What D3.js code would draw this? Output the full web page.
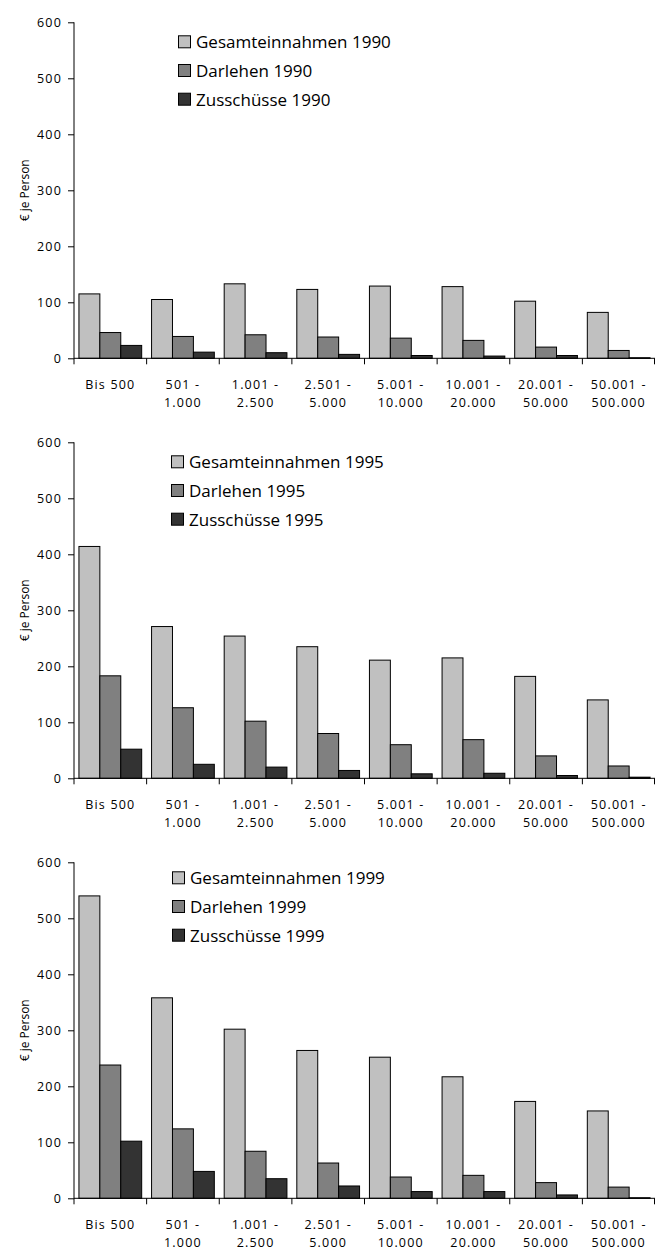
<!DOCTYPE html>
<html>
<head>
<meta charset="utf-8">
<script src="https://cdn.jsdelivr.net/npm/d3@7"></script>
<style>
  html, body { margin: 0; padding: 0; background: #fff; }
  svg { display: block; font-family: "Open Sans", "DejaVu Sans", sans-serif; }
</style>
</head>
<body>
<svg id="chart" width="655" height="1251"></svg>
<script>
// Einkommensklassen (€), zweizeilige Beschriftung
const categories = ["Bis 500", "501 -\n1.000", "1.001 -\n2.500", "2.501 -\n5.000",
  "5.001 -\n10.000", "10.001 -\n20.000", "20.001 -\n50.000", "50.001 -\n500.000"];

const seriesNames = ["Gesamteinnahmen", "Darlehen", "Zusschüsse"];
const seriesColors = ["#c0c0c0", "#808080", "#333333"];
const years = ["1990", "1995", "1999"];

// € je Person
const gesamt1990 = [115, 105, 133, 123, 129, 128, 102, 82];
const darlehen1990 = [46, 39, 42, 38, 36, 32, 20, 14];
const zuschuss1990 = [23, 11, 10, 7, 5, 4, 5, 1];

const gesamt1995 = [414, 271, 254, 235, 211, 215, 182, 140];
const darlehen1995 = [183, 126, 102, 80, 60, 69, 40, 22];
const zuschuss1995 = [52, 25, 20, 14, 8, 9, 5, 2];

const gesamt1999 = [540, 358, 302, 264, 252, 217, 173, 156];
const darlehen1999 = [238, 124, 84, 63, 38, 41, 28, 20];
const zuschuss1999 = [102, 48, 35, 22, 12, 12, 6, 1];

const yTicks = [0, 100, 200, 300, 400, 500, 600];
const yTitle = "€ je Person";

const panels = [
  { year: years[0], values: [gesamt1990, darlehen1990, zuschuss1990], legendX: 178, legendY: 19.5 },
  { year: years[1], values: [gesamt1995, darlehen1995, zuschuss1995], legendX: 171, legendY: 19.5 },
  { year: years[2], values: [gesamt1999, darlehen1999, zuschuss1999], legendX: 172, legendY: 15.5 }
];

const svg = d3.select("#chart");
const left = 74, right = 655;
const panelTop = 22.3, panelHeight = 336, panelStep = 420;

const x = d3.scaleBand().domain(categories).range([left, right]).paddingInner(0).paddingOuter(0);
const bw = x.bandwidth();
const inset = bw * 0.068;
const x1 = d3.scaleBand().domain(seriesNames).range([inset, bw - inset]).padding(0);

panels.forEach((p, pi) => {
  const top = panelTop + pi * panelStep;
  const bottom = top + panelHeight;
  const y = d3.scaleLinear().domain([0, 600]).range([bottom, top]);
  const g = svg.append("g");

  // Balken
  seriesNames.forEach((s, si) => {
    g.append("g").selectAll("rect")
      .data(p.values[si])
      .join("rect")
      .attr("x", (d, i) => x(categories[i]) + x1(s))
      .attr("y", d => y(d))
      .attr("width", x1.bandwidth())
      .attr("height", d => bottom - y(d))
      .attr("fill", seriesColors[si])
      .attr("stroke", "#000")
      .attr("stroke-width", 1);
  });

  // y-Achse
  const yAxis = g.append("g")
    .attr("transform", `translate(${left},0)`)
    .call(d3.axisLeft(y).tickValues(yTicks).tickSize(6).tickPadding(6).tickFormat(d3.format("d")));
  yAxis.select(".domain").attr("stroke", "#000").attr("d", `M0,${top}V${bottom}`);
  yAxis.selectAll(".tick line").attr("stroke", "#000");
  yAxis.selectAll("text")
    .attr("font-size", 12.5)
    .attr("letter-spacing", 1.2)
    .attr("fill", "#000")
    .style("font-family", "Open Sans, sans-serif");

  // x-Achse mit Strichen an den Klassengrenzen
  g.append("line")
    .attr("x1", left).attr("x2", right)
    .attr("y1", bottom).attr("y2", bottom)
    .attr("stroke", "#000");
  const bounds = categories.map(c => x(c)).concat([right - 0.5]);
  g.append("g").selectAll("line")
    .data(bounds)
    .join("line")
    .attr("x1", d => d).attr("x2", d => d)
    .attr("y1", bottom).attr("y2", bottom + 6)
    .attr("stroke", "#000");

  const labels = g.append("g").selectAll("text")
    .data(categories)
    .join("text")
    .attr("x", d => x(d) + bw / 2)
    .attr("text-anchor", "middle")
    .attr("font-size", 12.5)
    .attr("letter-spacing", 1.2)
    .attr("fill", "#000");
  labels.each(function (d) {
    const lines = d.split("\n");
    d3.select(this).selectAll("tspan")
      .data(lines)
      .join("tspan")
      .attr("x", x(d) + bw / 2)
      .attr("y", (l, li) => bottom + 30.5 + li * 18)
      .text(l => l);
  });

  // Achsentitel
  g.append("text")
    .attr("transform", `translate(24,${(top + bottom) / 2}) rotate(-90)`)
    .attr("text-anchor", "middle")
    .attr("dominant-baseline", "central")
    .attr("font-size", 12)
    .attr("fill", "#000")
    .text(yTitle);

  // Legende
  const leg = g.append("g").attr("transform", `translate(${p.legendX},${top + p.legendY})`);
  seriesNames.forEach((s, si) => {
    const row = leg.append("g").attr("transform", `translate(0,${si * 28.7})`);
    row.append("rect")
      .attr("x", 0.5).attr("y", -6)
      .attr("width", 12).attr("height", 12)
      .attr("fill", seriesColors[si])
      .attr("stroke", "#000");
    row.append("text")
      .attr("x", 18)
      .attr("y", 0)
      .attr("dominant-baseline", "central")
      .attr("font-size", 17)
      .attr("fill", "#000")
      .text(`${s} ${p.year}`);
  });
});
</script>
</body>
</html>
